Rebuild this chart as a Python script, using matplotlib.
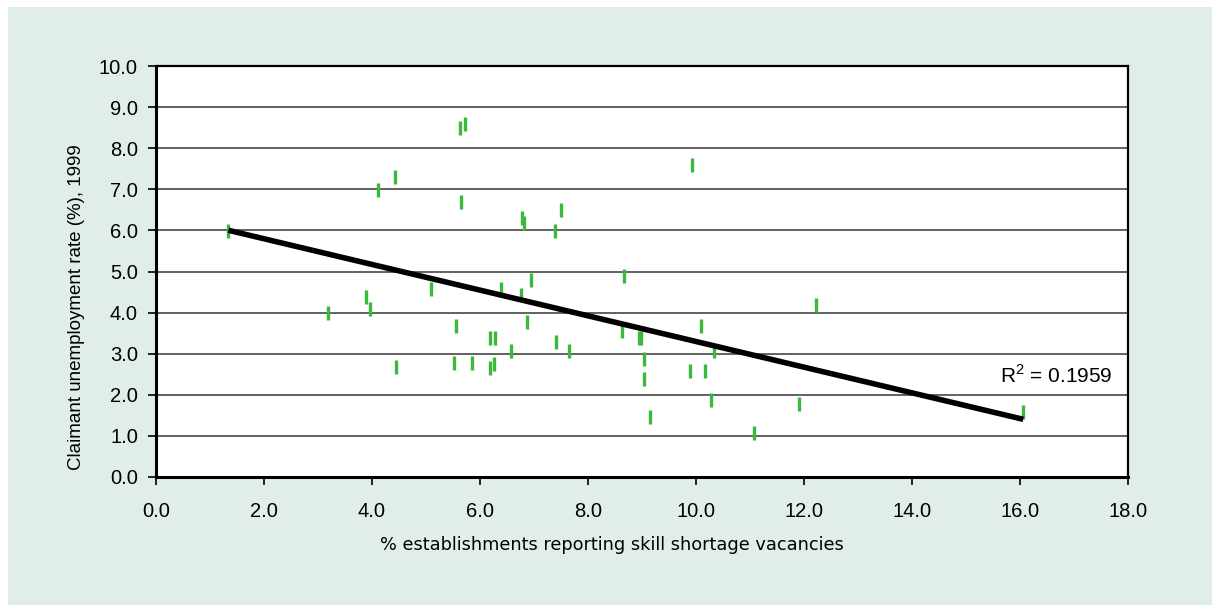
import numpy as np
import matplotlib.pyplot as plt
from matplotlib.patches import Rectangle

# data
pct_shortage = [1.34, 3.19, 3.88, 3.96, 4.12, 4.42, 4.45, 5.10, 5.51, 5.55,
                5.63, 5.64, 5.73, 5.86, 6.19, 6.25, 6.18, 6.28, 6.39, 6.58,
                6.75, 6.78, 6.81, 6.87, 6.94, 7.39, 7.41, 7.50, 7.64, 8.63,
                8.67, 8.94, 8.99, 9.04, 9.04, 9.15, 9.88, 9.93, 10.10, 10.17,
                10.27, 10.34, 11.07, 11.91, 12.23, 16.06]
claimant_rate = [5.99, 3.98, 4.38, 4.08, 6.98, 7.29, 2.68, 4.57, 2.77, 3.67,
                 8.48, 6.68, 8.59, 2.77, 2.65, 2.75, 3.38, 3.38, 4.57, 3.07,
                 4.43, 6.29, 6.19, 3.78, 4.79, 5.99, 3.28, 6.49, 3.07, 3.55,
                 4.89, 3.38, 3.38, 2.87, 2.38, 1.47, 2.58, 7.59, 3.68, 2.58,
                 1.87, 3.07, 1.08, 1.78, 4.18, 1.57]
r2_text = 'R$^2$ = 0.1959'

x = np.array(pct_shortage)
y = np.array(claimant_rate)
slope, intercept = np.polyfit(x, y, 1)
xfit = np.array([x.min(), x.max()])

plt.rcParams['mathtext.fontset'] = 'custom'
plt.rcParams['mathtext.rm'] = 'Liberation Sans'

fig = plt.figure(figsize=(12.12, 6.05), dpi=100)
fig.patch.set_facecolor('white')
fig.patches.append(Rectangle((8/1212, 0), 1 - 8/1212, 1 - 7/605,
                             transform=fig.transFigure, facecolor='#e1eee7',
                             edgecolor='none', zorder=-10))

ax = fig.add_axes([156/1212, 128/605, 972/1212, 411/605])
ax.set_facecolor('white')

ax.plot(x, y, linestyle='none', marker='|', color='#3cb93c',
        markersize=10, markeredgewidth=2.4, zorder=3)
ax.plot(xfit, intercept + slope * xfit, color='black', lw=4,
        solid_capstyle='butt', zorder=4)

ax.set_xlim(0, 18)
ax.set_ylim(0, 10)
ax.set_xticks(np.arange(0, 18.1, 2))
ax.set_yticks(np.arange(0, 10.1, 1))
ax.set_xticklabels(['%.1f' % v for v in np.arange(0, 18.1, 2)])
ax.set_yticklabels(['%.1f' % v for v in np.arange(0, 10.1, 1)])
for lab in ax.get_xticklabels() + ax.get_yticklabels():
    lab.set_fontfamily('Liberation Sans')
    lab.set_fontsize(14.5)
ax.yaxis.grid(True, color='#555555', lw=1.3)
ax.set_axisbelow(True)
for s in ax.spines.values():
    s.set_color('black')
    s.set_linewidth(1.6)
ax.spines['left'].set_linewidth(2.2)
ax.spines['bottom'].set_linewidth(2.2)
ax.tick_params(direction='out', length=6, width=1.2)
ax.tick_params(axis='x', pad=12)
ax.tick_params(axis='y', pad=7)

ax.text(15.63, 2.29, r2_text, fontsize=15, family='Liberation Sans',
        ha='left', va='baseline')

fig.text(612/1212, 1 - 545/605, '% establishments reporting skill shortage vacancies',
         ha='center', va='center', fontsize=12.8, family='DejaVu Sans')
fig.text(77/1212, 1 - 307/605, 'Claimant unemployment rate (%), 1999',
         ha='center', va='center', rotation=90, fontsize=13.5, family='Liberation Sans')

fig.savefig('out.png', dpi=100)
